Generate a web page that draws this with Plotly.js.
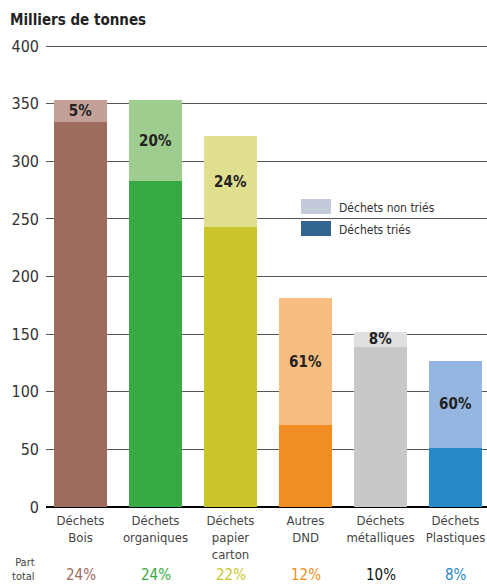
<!DOCTYPE html>
<html>
<head>
<meta charset="utf-8">
<script src="https://cdn.plot.ly/plotly-3.0.1.min.js"></script>
<style>html,body{margin:0;padding:0;background:#fff;}#chart{width:487px;height:586px;}</style>
</head>
<body>
<div id="chart"></div>
<script>
const categories = ["Déchets<br>Bois", "Déchets<br>organiques", "Déchets<br>papier<br>carton", "Autres<br>DND", "Déchets<br>métalliques", "Déchets<br>Plastiques"];
const totals = [353, 353, 322, 181, 152, 127];
const sortedValues = [334, 283, 243, 71, 139, 51];
const unsortedPctLabels = ["5%", "20%", "24%", "61%", "8%", "60%"];
const partTotal = ["24%", "24%", "22%", "12%", "10%", "8%"];
const darkColors = ["#9e6b5f", "#37a945", "#cbc52c", "#f08e24", "#c8c8c8", "#2788c7"];
const lightColors = ["#c4a198", "#9fcd8f", "#e0de8f", "#f8bd80", "#e0e0e0", "#95b6e0"];
const partColors = ["#9e6b5f", "#37a945", "#cbc52c", "#f08e24", "#111111", "#2788c7"];

const unsortedValues = totals.map((t, i) => t - sortedValues[i]);
const FONT = "DejaVu Sans Condensed, DejaVu Sans, sans-serif";
const xs = categories.map((c, i) => i);

const traces = [
  {type: "bar", x: xs, y: sortedValues, width: 0.707, marker: {color: darkColors}, hoverinfo: "skip", showlegend: false},
  {type: "bar", x: xs, y: unsortedValues, width: 0.707, marker: {color: lightColors},
   text: unsortedPctLabels, textposition: "inside", insidetextanchor: "middle", constraintext: "none",
   textfont: {family: FONT, size: 15, color: "#222", weight: 600}, hoverinfo: "skip", showlegend: false}
];

const TOP = 45, BOT = 507;
const plotH = BOT - TOP, plotW = 441;
const py = (px) => (BOT - px) / plotH;
const annotations = partTotal.map((p, i) => ({
  x: i, xref: "x", y: py(575), yref: "paper", text: p, showarrow: false,
  font: {family: FONT, size: 15, color: partColors[i]}, xanchor: "center", yanchor: "middle"
}));
annotations.push({x: (37 - 46) / plotW, xref: "paper", y: py(569), yref: "paper",
  text: "Part<br>total", showarrow: false, align: "right", xanchor: "right", yanchor: "middle",
  font: {family: FONT, size: 11, color: "#444"}});
annotations.push({x: (337 - 46) / plotW, xref: "paper", y: py(208), yref: "paper",
  text: "Déchets non triés", showarrow: false, xanchor: "left", yanchor: "middle",
  font: {family: FONT, size: 12, color: "#333"}});
annotations.push({x: (337 - 46) / plotW, xref: "paper", y: py(230), yref: "paper",
  text: "Déchets triés", showarrow: false, xanchor: "left", yanchor: "middle",
  font: {family: FONT, size: 12, color: "#333"}});

const shapes = [
  {type: "rect", xref: "paper", yref: "paper", x0: (301 - 46) / plotW, x1: (331 - 46) / plotW,
   y0: py(214), y1: py(199), fillcolor: "#c5cadb", line: {width: 0}, layer: "above"},
  {type: "rect", xref: "paper", yref: "paper", x0: (301 - 46) / plotW, x1: (331 - 46) / plotW,
   y0: py(236), y1: py(221), fillcolor: "#336591", line: {width: 0}, layer: "above"}
];

const layout = {
  width: 487, height: 586,
  margin: {l: 46, r: 0, t: TOP, b: 586 - BOT},
  paper_bgcolor: "#fff", plot_bgcolor: "#fff",
  barmode: "stack",
  showlegend: false,
  title: {text: "Milliers de tonnes", x: 10 / 487, xref: "container", xanchor: "left",
          y: 1 - 20 / 586, yref: "container", yanchor: "middle",
          font: {family: FONT, size: 15, color: "#222", weight: 600}},
  xaxis: {range: [-0.46, 5.42], tickmode: "array", tickvals: xs, ticktext: categories,
          tickfont: {family: FONT, size: 13, color: "#444"}, showgrid: false, zeroline: false,
          showline: false, ticks: "", ticklabelstandoff: 4},
  yaxis: {range: [0, 401], tickvals: [0, 50, 100, 150, 200, 250, 300, 350, 400],
          tickfont: {family: FONT, size: 16, color: "#333"}, showgrid: true, gridcolor: "#555",
          gridwidth: 1, zeroline: true, zerolinecolor: "#000", zerolinewidth: 1.5,
          showline: false, ticks: "", ticklabelstandoff: 6},
  annotations: annotations,
  shapes: shapes
};

Plotly.newPlot("chart", traces, layout, {displayModeBar: false, staticPlot: true});
</script>
</body>
</html>
